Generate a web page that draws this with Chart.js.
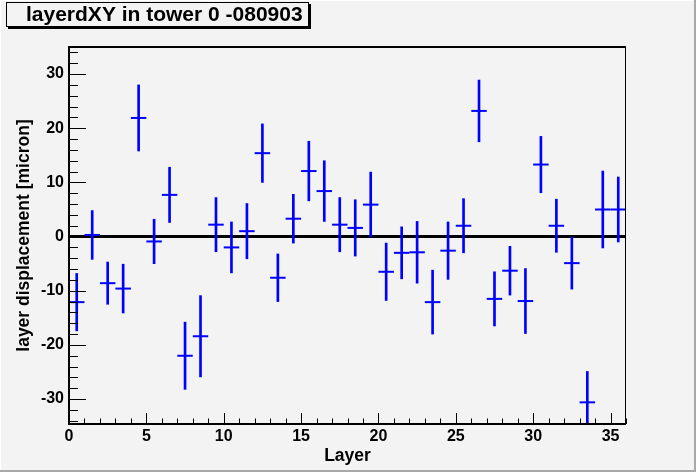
<!DOCTYPE html>
<html>
<head>
<meta charset="utf-8">
<title>layerdXY in tower 0 -080903</title>
<script src="https://cdn.jsdelivr.net/npm/chart.js@4.4.1/dist/chart.umd.min.js"></script>
<style>
    html, body { margin: 0; padding: 0; background: #f3f3f3; }
    #wrap { width: 696px; height: 472px; }
</style>
</head>
<body>
<div id="wrap"><canvas id="layerChart" width="696" height="472"></canvas></div>
<script>
// data: one point per layer (bin centre)
const layers = [0.5, 1.5, 2.5, 3.5, 4.5, 5.5, 6.5, 7.5, 8.5, 9.5, 10.5, 11.5,
    12.5, 13.5, 14.5, 15.5, 16.5, 17.5, 18.5, 19.5, 20.5, 21.5, 22.5, 23.5,
    24.5, 25.5, 26.5, 27.5, 28.5, 29.5, 30.5, 31.5, 32.5, 33.5, 34.5, 35.5];
const displacement = [-12.1, 0.3, -8.6, -9.6, 21.9, -0.9, 7.7, -22.0, -18.4, 2.2, -2.0, 1.0,
    15.4, -7.6, 3.3, 12.1, 8.4, 2.2, 1.6, 5.9, -6.5, -3.0, -2.9, -12.1,
    -2.6, 2.0, 23.2, -11.5, -6.3, -11.9, 13.3, 2.0, -4.9, -30.6, 5.0, 5.0];
const errors = [5.3, 4.5, 3.9, 4.5, 6.1, 4.1, 5.1, 6.2, 7.5, 5.0, 4.7, 5.1,
    5.4, 4.4, 4.5, 5.5, 5.6, 5.0, 5.2, 6.0, 5.3, 4.8, 5.7, 5.9,
    5.3, 5.0, 5.7, 5.0, 4.5, 6.0, 5.2, 4.9, 4.8, 5.7, 7.1, 6.0];

const xTicks = [0, 5, 10, 15, 20, 25, 30, 35];
const yTicks = [-30, -20, -10, 0, 10, 20, 30];

const titleText = 'layerdXY in tower 0 -080903';
const xTitle = 'Layer';
const yTitle = 'layer displacement [micron]';

// build the datasets
const errorBars = layers.map((x, i) => ({ x: x, y: [displacement[i] - errors[i], displacement[i] + errors[i]] }));
const centres = layers.map((x, i) => ({ x: x, y: displacement[i] }));

Chart.defaults.font.family = "'Liberation Sans', Arial, Helvetica, sans-serif";
Chart.defaults.font.weight = 'bold';
Chart.defaults.color = '#000';

// ROOT look: grey pad, title box, frame, inward ticks, zero line
const rootPad = {
    id: 'rootPad',
    beforeDraw(chart) {
        const ctx = chart.ctx;
        const w = chart.width, h = chart.height;
        ctx.save();
        ctx.fillStyle = '#f3f3f3';
        ctx.fillRect(0, 0, w, h);
        // bevel
        ctx.fillStyle = '#ffffff';
        ctx.fillRect(0, 0, w, 1);
        ctx.fillRect(0, 0, 1, h);
        ctx.fillStyle = '#a8a8a8';
        ctx.fillRect(w - 2, 0, 2, h);
        ctx.fillRect(0, h - 2, w, 2);

        // title box with shadow
        ctx.fillStyle = '#000';
        ctx.fillRect(309, 4, 2, 25);
        ctx.fillRect(8, 27, 303, 2);
        ctx.fillStyle = '#f3f3f3';
        ctx.fillRect(7, 3, 301, 23);
        ctx.strokeStyle = '#000';
        ctx.lineWidth = 1;
        ctx.strokeRect(6.5, 2.5, 302, 24);
        ctx.fillStyle = '#000';
        ctx.font = "bold 21px 'Liberation Sans', Arial, sans-serif";
        ctx.textAlign = 'left';
        ctx.textBaseline = 'alphabetic';
        ctx.fillText(titleText, 26, 21);
        ctx.restore();
    },
    beforeDatasetsDraw(chart) {
        const ctx = chart.ctx;
        const a = chart.chartArea;
        const y0 = chart.scales.y.getPixelForValue(0);
        ctx.save();
        ctx.strokeStyle = '#000';
        ctx.lineWidth = 3;
        ctx.beginPath();
        ctx.moveTo(a.left, y0);
        ctx.lineTo(a.right, y0);
        ctx.stroke();
        ctx.restore();
    },
    afterDatasetsDraw(chart) {
        const ctx = chart.ctx;
        const a = chart.chartArea;
        const xs = chart.scales.x, ys = chart.scales.y;
        ctx.save();
        ctx.strokeStyle = '#000';

        // ticks (pointing into the frame)
        ctx.lineWidth = 1;
        ctx.beginPath();
        for (let v = 0; v <= 36; v++) {
            const px = Math.round(xs.getPixelForValue(v)) + 0.5;
            const len = v % 5 === 0 ? 11 : 5.5;
            ctx.moveTo(px, a.bottom);
            ctx.lineTo(px, a.bottom - len);
        }
        for (let v = -34; v <= 34; v += 2) {
            const py = Math.round(ys.getPixelForValue(v)) + 0.5;
            const len = v % 10 === 0 ? 17 : 9;
            ctx.moveTo(a.left, py);
            ctx.lineTo(a.left + len, py);
        }
        ctx.stroke();

        // frame
        ctx.lineWidth = 2;
        ctx.beginPath();
        ctx.moveTo(a.right, a.top);
        ctx.lineTo(a.left, a.top);
        ctx.lineTo(a.left, a.bottom);
        ctx.lineTo(a.right, a.bottom);
        ctx.stroke();
        ctx.lineWidth = 1;
        ctx.beginPath();
        ctx.moveTo(a.right - 0.5, a.top);
        ctx.lineTo(a.right - 0.5, a.bottom);
        ctx.stroke();
        ctx.restore();
    }
};

const config = {
    type: 'bar',
    data: {
        datasets: [
            {
                // vertical error bars
                type: 'bar',
                data: errorBars,
                backgroundColor: '#0000ff',
                borderWidth: 0,
                barThickness: 2,
                maxBarThickness: 2
            },
            {
                // horizontal bar across each bin
                type: 'scatter',
                data: centres,
                pointStyle: 'line',
                borderColor: '#0000ff',
                backgroundColor: '#0000ff',
                borderWidth: 2,
                pointRadius: ctx => (ctx.chart.scales.x.getPixelForValue(1) - ctx.chart.scales.x.getPixelForValue(0)) / 2,
                showLine: false
            }
        ]
    },
    options: {
        responsive: false,
        animation: false,
        events: [],
        layout: { padding: { left: 0, top: 47, right: 70, bottom: 0 } },
        plugins: {
            legend: { display: false },
            tooltip: { enabled: false },
            title: { display: false }
        },
        scales: {
            x: {
                type: 'linear',
                offset: false,
                min: 0,
                max: 36,
                afterBuildTicks: s => { s.ticks = xTicks.map(v => ({ value: v })); },
                afterFit: s => { s.height = 48; },
                grid: { display: false, drawTicks: false },
                border: { display: false },
                ticks: { font: { size: 16, weight: 'bold' }, padding: 3, maxRotation: 0, autoSkip: false },
                title: { display: true, text: xTitle, font: { size: 17.5, weight: 'bold' }, padding: { top: 0, bottom: 5 } }
            },
            y: {
                type: 'linear',
                min: -34.6,
                max: 35,
                afterBuildTicks: s => { s.ticks = yTicks.map(v => ({ value: v })); },
                afterFit: s => { s.width = 69; },
                grid: { display: false, drawTicks: false },
                border: { display: false },
                ticks: { font: { size: 16, weight: 'bold' }, padding: 5, autoSkip: false },
                title: { display: true, text: yTitle, font: { size: 17.5, weight: 'bold' }, padding: { top: 14, bottom: 0 } }
            }
        }
    },
    plugins: [rootPad]
};

const myChart = new Chart(document.getElementById('layerChart'), config);
</script>
</body>
</html>
